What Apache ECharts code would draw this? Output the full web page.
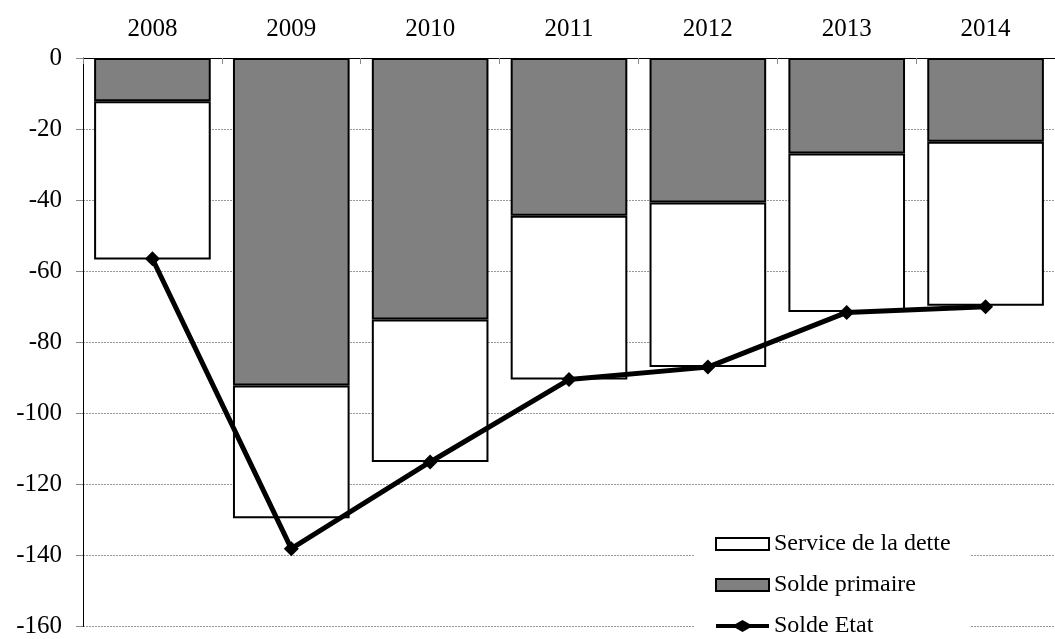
<!DOCTYPE html>
<html>
<head>
<meta charset="utf-8">
<script src="https://cdn.jsdelivr.net/npm/echarts@6/dist/echarts.min.js"></script>
<style>
  html, body { margin: 0; padding: 0; background: #fff; }
  #chart { width: 1055px; height: 639px; }
</style>
</head>
<body>
<div id="chart"></div>
<script>
// Budget balance components, in billions
const years = ['2008', '2009', '2010', '2011', '2012', '2013', '2014'];
const soldePrimaire = [-12.2, -92.2, -73.6, -44.4, -40.7, -26.9, -23.6];
const serviceDette = [-44.5, -37.3, -40.1, -46.1, -46.3, -44.6, -46.1];
const soldeEtat = [-56.5, -138.1, -113.7, -90.5, -87.0, -71.6, -70.0];

const serif = '"Liberation Serif", "Times New Roman", serif';

// Legend glyph for the balance line: thick stroke with a diamond in the middle
const lineDiamondIcon = 'path://M0,4H19.5L26.5,0L33.5,4H53V8H33.5L26.5,12L19.5,8H0Z';

const chart = echarts.init(document.getElementById('chart'));
chart.setOption({
  animation: false,
  backgroundColor: '#fff',
  grid: { left: 83, right: -11, top: 58, bottom: 9, containLabel: false },
  legend: {
    orient: 'vertical',
    left: 695,
    top: 526,
    itemWidth: 53,
    itemHeight: 12,
    itemGap: 17,
    padding: [6, 20, 0, 20],
    backgroundColor: '#fff',
    data: [
      { name: 'Service de la dette', icon: 'rect' },
      { name: 'Solde primaire', icon: 'rect' },
      { name: 'Solde Etat', icon: lineDiamondIcon, itemStyle: { color: '#000', borderWidth: 0 } }
    ],
    textStyle: { fontFamily: serif, fontSize: 24, lineHeight: 24, color: '#000' }
  },
  xAxis: {
    type: 'category',
    position: 'top',
    data: years,
    axisLine: { show: true, lineStyle: { color: '#000', width: 1 } },
    axisTick: { show: true, inside: true, length: 6, lineStyle: { color: '#888' } },
    axisLabel: { fontFamily: serif, fontSize: 25, color: '#000', margin: 16 },
    splitLine: { show: false }
  },
  yAxis: {
    type: 'value',
    min: -160,
    max: 0,
    interval: 20,
    axisLine: { show: true, lineStyle: { color: '#000', width: 1 } },
    axisTick: { show: true, length: 7, lineStyle: { color: '#888' } },
    axisLabel: { fontFamily: serif, fontSize: 25, color: '#000', margin: 21 },
    splitLine: { show: true, lineStyle: { color: '#999', width: 1, type: [2, 1] } }
  },
  series: [
    {
      name: 'Solde primaire',
      type: 'bar',
      stack: 'solde',
      data: soldePrimaire,
      barWidth: '84%',
      itemStyle: { color: '#808080', borderColor: '#000', borderWidth: 2 },
      z: 2
    },
    {
      name: 'Service de la dette',
      type: 'bar',
      stack: 'solde',
      data: serviceDette,
      barWidth: '84%',
      itemStyle: { color: '#fff', borderColor: '#000', borderWidth: 2 },
      z: 2
    },
    {
      name: 'Solde Etat',
      type: 'line',
      data: soldeEtat,
      symbol: 'diamond',
      symbolSize: 15,
      lineStyle: { color: '#000', width: 5 },
      itemStyle: { color: '#000' },
      z: 5
    }
  ]
});
</script>
</body>
</html>
